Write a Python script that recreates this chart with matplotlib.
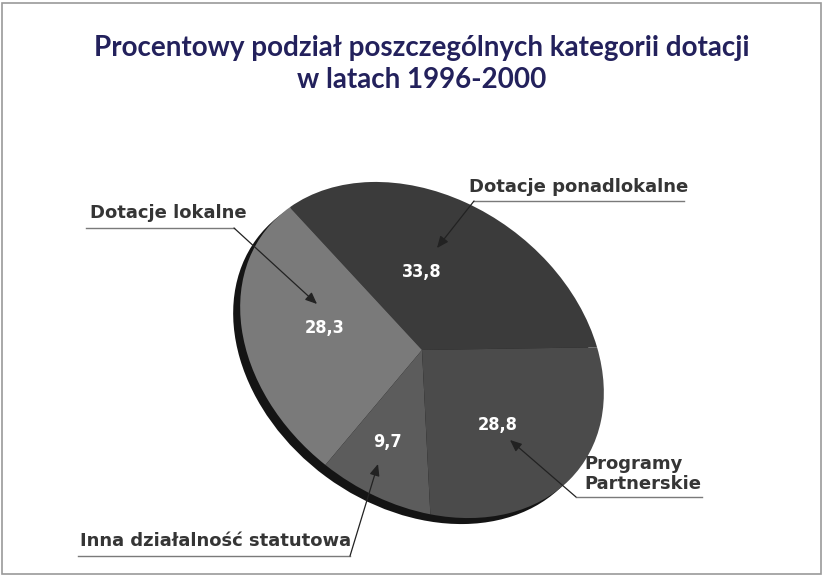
import matplotlib
matplotlib.use("Agg")
import matplotlib.pyplot as plt
from matplotlib.transforms import Affine2D
from matplotlib.patches import Circle, Rectangle

# ---- data ----
categories = ["Dotacje ponadlokalne", "Dotacje lokalne",
              "Inna działalność statutowa", "Programy Partnerskie"]
values = [33.8, 28.3, 9.7, 28.8]
value_labels = ["33,8", "28,3", "9,7", "28,8"]
colors = ["#3b3b3b", "#7a7a7a", "#5c5c5c", "#4b4b4b"]
title_lines = ["Procentowy podział poszczególnych kategorii dotacji",
               "w latach 1996-2000"]

W, H = 824, 576
fig = plt.figure(figsize=(W / 100, H / 100), dpi=100)
ax = fig.add_axes([0, 0, 1, 1])

# tilted pie: unit pie mapped to a rotated ellipse (pixel coords, y down)
cx, cy = 422, 350
a, b, rot = 197, 150, -36.4
aff = Affine2D().scale(a, b).rotate_deg(rot).scale(1, -1).translate(cx, cy)
shadow_aff = aff + Affine2D().translate(-7, 6)

wedges, _ = ax.pie(values, colors=colors, startangle=45, counterclock=True,
                   wedgeprops=dict(linewidth=0))
shadow = Circle((0, 0), 1.0, facecolor="#141414", edgecolor="none", zorder=0.5)
ax.add_patch(shadow)
shadow.set_transform(shadow_aff + ax.transData)
for w in wedges:
    w.set_transform(aff + ax.transData)
    w.set_zorder(1)

ax.set_xlim(0, W)
ax.set_ylim(H, 0)
ax.set_aspect("auto")
ax.axis("off")

# title
for y, line in zip((48, 80), title_lines):
    fig.text(0.512, 1 - y / H, line, ha="center", va="center",
             fontsize=20, fontweight="bold", color="#23215c", family="Lato")

# value labels
val_pos = [(422, 272), (325, 328), (387, 442), (498, 425)]
for (x, y), t in zip(val_pos, value_labels):
    ax.text(x, y, t, ha="center", va="center", color="white", fontsize=13,
            fontweight="bold", family=["Liberation Sans Narrow", "DejaVu Sans"],
            fontstretch="condensed", zorder=5)

lab_col = "#353535"
line_col = "#7a7a7a"
fs = 13

def leader(text, tx, ty, underline, corner, tip):
    ax.text(tx, ty, text, ha="left", va="center", fontsize=fs, fontweight="bold",
            color=lab_col, family="DejaVu Sans", zorder=5, linespacing=1.15)
    ax.plot([underline[0], underline[1]], [underline[2], underline[2]],
            color=line_col, lw=1.0, zorder=4)
    ax.annotate("", xy=tip, xytext=corner,
                arrowprops=dict(arrowstyle="-|>,head_length=0.7,head_width=0.3",
                                color="#222222", lw=0.9,
                                shrinkA=0, shrinkB=0), zorder=6)

leader(categories[1], 90, 213, (86, 234, 228), (234, 228), (317, 304))
leader(categories[0], 469, 187, (474, 684, 201), (474, 201), (437, 248))
leader(categories[2], 80, 541, (78, 350, 556), (350, 556), (378, 464))
leader("Programy\nPartnerskie", 584, 474, (576, 702, 497), (576, 497),
       (510, 440))

# frame
fig.patches.append(Rectangle((2 / W, 2 / H), 1 - 5 / W, 1 - 5 / H,
                             transform=fig.transFigure, fill=False,
                             edgecolor="#9a9a9a", lw=1.2))

fig.savefig("out.png", dpi=100)
